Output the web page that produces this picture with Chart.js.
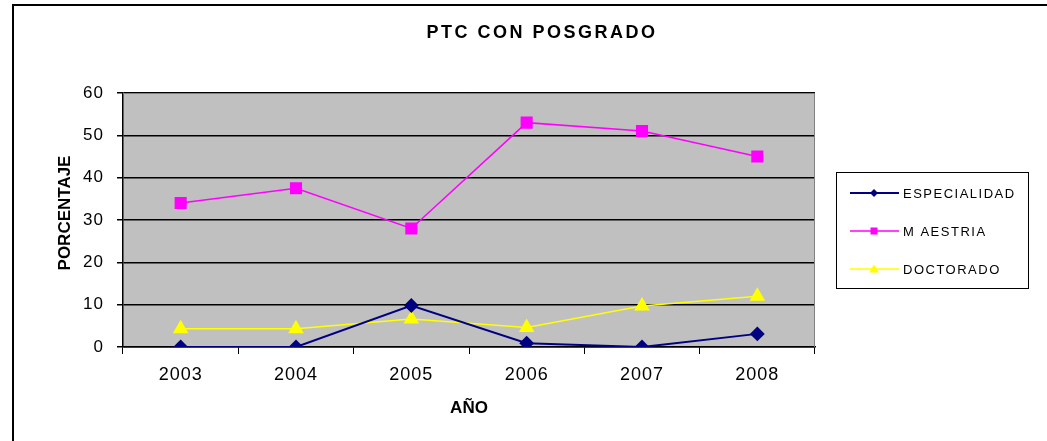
<!DOCTYPE html>
<html lang="es">
<head>
<meta charset="UTF-8">
<title>PTC CON POSGRADO</title>
<script src="https://cdn.jsdelivr.net/npm/chart.js"></script>
<style>
  html, body { margin: 0; padding: 0; background: #fff; }
  #wrap { width: 1047px; height: 441px; }
</style>
</head>
<body>
<div id="wrap"><canvas id="chart" width="1047" height="441"></canvas></div>
<script>
// data
const years = ['2003', '2004', '2005', '2006', '2007', '2008'];
const especialidad = [0, 0, 9.8, 0.9, 0, 3.1];
const maestria = [34, 37.5, 28, 53, 51, 45];
const doctorado = [4.3, 4.3, 6.6, 4.6, 9.7, 12];
const yTicks = [0, 10, 20, 30, 40, 50, 60];

const FONT = 'Liberation Sans, Arial, sans-serif';

// frame, titles, plot background and legend box
const decor = {
    id: 'decor',
    beforeDraw(chart) {
        const { ctx, chartArea: a } = chart;
        ctx.save();
        ctx.fillStyle = '#c0c0c0';
        ctx.fillRect(a.left, a.top, a.right - a.left, a.bottom - a.top);
        ctx.restore();
        // the reference text is a bit spread out
        ctx.letterSpacing = '1px';
    },
    afterDraw(chart) {
        const { ctx, chartArea: a } = chart;
        ctx.save();
        // outer frame (runs off the right and bottom edge)
        ctx.strokeStyle = '#000';
        ctx.lineWidth = 2;
        ctx.strokeRect(13, 5, 1100, 500);
        // plot border top / right
        ctx.strokeStyle = '#808080';
        ctx.lineWidth = 1;
        ctx.beginPath();
        ctx.moveTo(a.left, a.top + 0.5);
        ctx.lineTo(a.right - 0.5, a.top + 0.5);
        ctx.lineTo(a.right - 0.5, a.bottom);
        ctx.stroke();

        ctx.fillStyle = '#000';
        ctx.textBaseline = 'middle';
        ctx.textAlign = 'center';
        // title
        ctx.letterSpacing = '2.5px';
        ctx.font = 'bold 18px ' + FONT;
        ctx.fillText('PTC CON POSGRADO', 542, 33);
        // axis titles
        ctx.letterSpacing = '0px';
        ctx.font = 'bold 17px ' + FONT;
        ctx.fillText('AÑO', 469, 408);
        ctx.save();
        ctx.translate(65, 213);
        ctx.rotate(-Math.PI / 2);
        ctx.fillText('PORCENTAJE', 0, 0);
        ctx.restore();

        // legend
        const lx = 836, ly = 172, lw = 192, lh = 116;
        ctx.strokeStyle = '#000';
        ctx.lineWidth = 1;
        ctx.strokeRect(lx + 0.5, ly + 0.5, lw, lh);
        ctx.font = '13px ' + FONT;
        ctx.letterSpacing = '1.5px';
        ctx.textAlign = 'left';
        chart.data.datasets.forEach((ds, i) => {
            const y = ly + 21 + i * 38;
            ctx.strokeStyle = ds.borderColor;
            ctx.lineWidth = ds.borderWidth;
            ctx.beginPath();
            ctx.moveTo(850, y);
            ctx.lineTo(899, y);
            ctx.stroke();
            ctx.fillStyle = ds.pointBackgroundColor;
            const cx = 874;
            ctx.beginPath();
            if (ds.pointStyle === 'rectRot') {
                ctx.moveTo(cx, y - 4); ctx.lineTo(cx + 4, y); ctx.lineTo(cx, y + 4); ctx.lineTo(cx - 4, y);
            } else if (ds.pointStyle === 'rect') {
                ctx.rect(cx - 3.5, y - 3.5, 7, 7);
            } else {
                ctx.moveTo(cx, y - 4.5); ctx.lineTo(cx + 5, y + 3.5); ctx.lineTo(cx - 5, y + 3.5);
            }
            ctx.closePath();
            ctx.fill();
            ctx.fillStyle = '#000';
            ctx.fillText(ds.label, 903, y + 1);
        });
        ctx.restore();
    }
};

new Chart(document.getElementById('chart'), {
    type: 'line',
    data: {
        labels: years,
        datasets: [
            {
                label: 'ESPECIALIDAD',
                data: especialidad,
                borderColor: '#000080',
                pointBackgroundColor: '#000080',
                pointBorderColor: '#000080',
                pointStyle: 'rectRot',
                pointRadius: 6,
                borderWidth: 2
            },
            {
                label: 'M AESTRIA',
                data: maestria,
                borderColor: '#ff00ff',
                pointBackgroundColor: '#ff00ff',
                pointBorderColor: '#ff00ff',
                pointStyle: 'rect',
                pointRadius: 7.5,
                borderWidth: 1.5
            },
            {
                label: 'DOCTORADO',
                data: doctorado,
                borderColor: '#ffff00',
                pointBackgroundColor: '#ffff00',
                pointBorderColor: '#ffff00',
                pointStyle: 'triangle',
                pointRadius: 7.5,
                borderWidth: 1.5
            }
        ]
    },
    options: {
        responsive: false,
        animation: false,
        events: [],
        layout: { padding: { left: 0, right: 232, top: 93, bottom: 0 } },
        plugins: {
            legend: { display: false },
            title: { display: false },
            tooltip: { enabled: false }
        },
        elements: { line: { tension: 0 } },
        scales: {
            x: {
                offset: true,
                grid: {
                    offset: true,
                    drawOnChartArea: false,
                    color: '#000',
                    tickLength: 7,
                    lineWidth: 1
                },
                border: { color: '#000', width: 1.5 },
                ticks: { color: '#000', font: { family: FONT, size: 18 }, padding: 10 },
                afterFit(scale) { scale.height = 94; }
            },
            y: {
                min: 0,
                max: 60,
                afterBuildTicks(scale) { scale.ticks = yTicks.map(v => ({ value: v })); },
                grid: {
                    color: '#000',
                    lineWidth: 1.5,
                    tickLength: 6
                },
                border: { color: '#000', width: 1.5 },
                ticks: { color: '#000', font: { family: FONT, size: 17 }, padding: 13 },
                afterFit(scale) { scale.width = 123; }
            }
        }
    },
    plugins: [decor]
});
</script>
</body>
</html>
